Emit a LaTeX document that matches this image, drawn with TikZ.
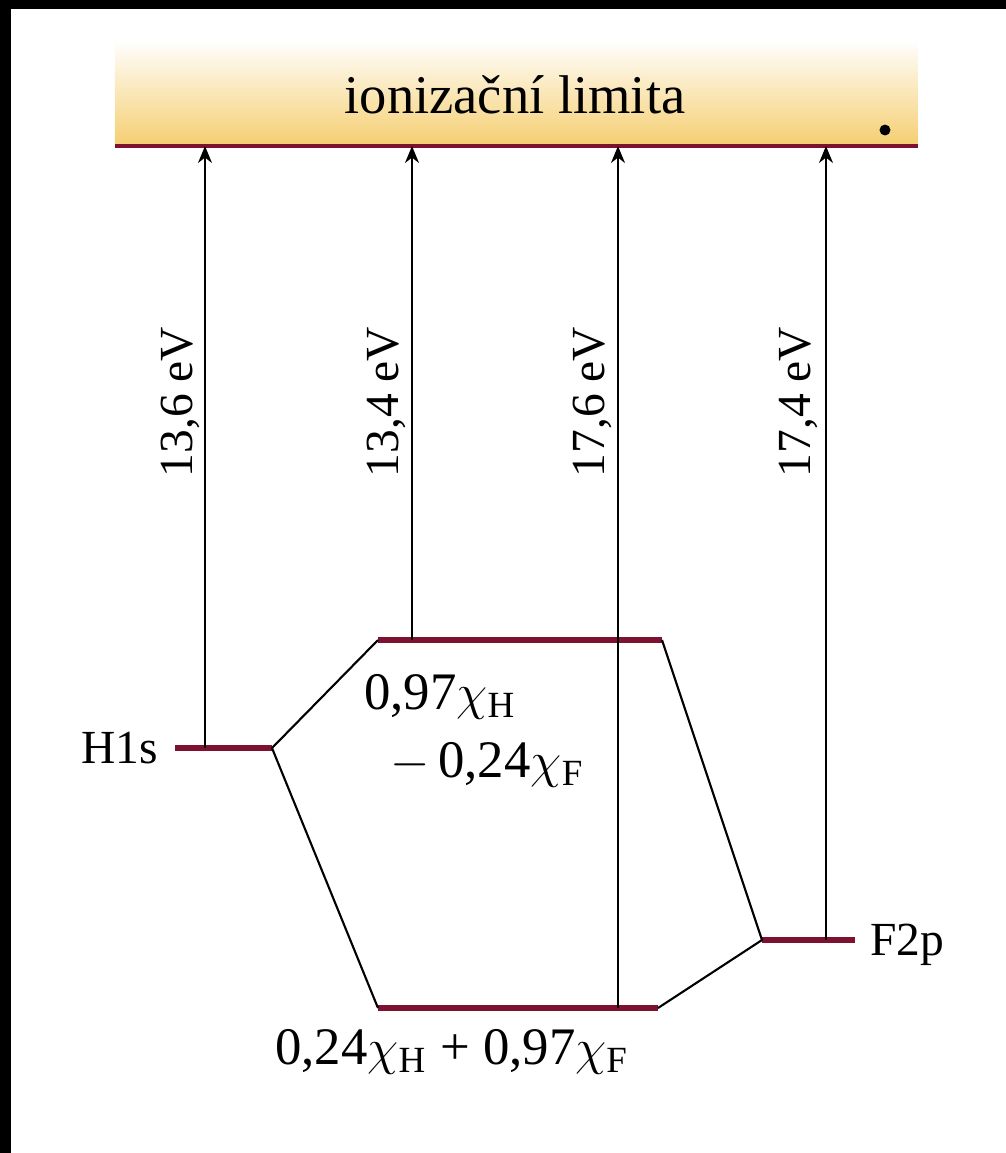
\documentclass[tikz,border=0pt]{standalone}
\usepackage{fontspec}
\setmainfont{Liberation Serif}
\usepackage{amsmath}
\usetikzlibrary{arrows.meta}

\definecolor{levelred}{RGB}{125,18,48}
\definecolor{bandyellow}{RGB}{245,206,112}

\begin{document}
\begin{tikzpicture}[x=0.01cm, y=-0.01cm, >={Stealth[length=1.7mm, width=1.4mm]},
        level/.style={draw=levelred, line width=1.5pt},
        link/.style={draw, line width=0.6pt},
        jump/.style={->, line width=0.6pt},
        lab/.style={font=\fontsize{13.5}{16}\selectfont, inner sep=1pt},
        mlab/.style={font=\fontsize{15}{17}\selectfont, inner sep=1pt},
        evlab/.style={lab, rotate=90},
    ]
    \useasboundingbox (0,0) rectangle (1006,1153);

    % Frame
    \fill[black] (0,0) rectangle (11,1153);
    \fill[black] (0,0) rectangle (1006,9);

    % Ionization limit
    \shade[top color=white, middle color=bandyellow!40, bottom color=bandyellow] (115,40) rectangle (918,146);
    \coordinate (limL) at (115,146);
    \coordinate (limR) at (918,146);
    \draw[levelred, line width=1.1pt] (limL) -- (limR);
    \node[lab, font=\fontsize{15.5}{17}\selectfont] (limit) at (515,95) {ionizační limita};
    \node[circle, fill, inner sep=1.1pt] (dot) at (885,130) {};

    % Levels
    \coordinate (h1sL) at (175,748);
    \coordinate (h1sR) at (272,748);
    \coordinate (upL) at (378,640);
    \coordinate (upR) at (662,640);
    \coordinate (loL) at (378,1008);
    \coordinate (loR) at (658,1008);
    \coordinate (f2pL) at (762,940);
    \coordinate (f2pR) at (855,940);

    \draw[level] (h1sL) -- (h1sR);
    \draw[level] (upL) -- (upR);
    \draw[level] (loL) -- (loR);
    \draw[level] (f2pL) -- (f2pR);

    \node[lab, anchor=east] (h1s) at (162,748) {H1s};
    \node[lab, anchor=west] (f2p) at (866,945) {F2p};

    % Correlation lines
    \draw[link] (h1sR) -- (upL);
    \draw[link] (h1sR) -- (loL);
    \draw[link] (upR) -- (f2pL);
    \draw[link] (loR) -- (f2pL);

    % Orbital labels
    \node[mlab, anchor=west] (up1) at (360,697) {0,97$\chi_{\mathrm{H}}$};
    \node[mlab, anchor=west] (up2) at (386,765) {$-$\,0,24$\chi_{\mathrm{F}}$};
    \node[mlab] (lo) at (452,1052) {0,24$\chi_{\mathrm{H}}$ + 0,97$\chi_{\mathrm{F}}$};

    % Ionization energies
    \coordinate (s1) at (205,748);
    \coordinate (s2) at (412,640);
    \coordinate (s3) at (618,1008);
    \coordinate (s4) at (826,940);
    \draw[jump] (s1) -- (s1 |- limL);
    \draw[jump] (s2) -- (s2 |- limL);
    \draw[jump] (s3) -- (s3 |- limL);
    \draw[jump] (s4) -- (s4 |- limL);

    \node[evlab] (ev1) at (180,402) {13,6 eV};
    \node[evlab] (ev2) at (386,402) {13,4 eV};
    \node[evlab] (ev3) at (592,402) {17,6 eV};
    \node[evlab] (ev4) at (798,402) {17,4 eV};

\end{tikzpicture}
\end{document}
